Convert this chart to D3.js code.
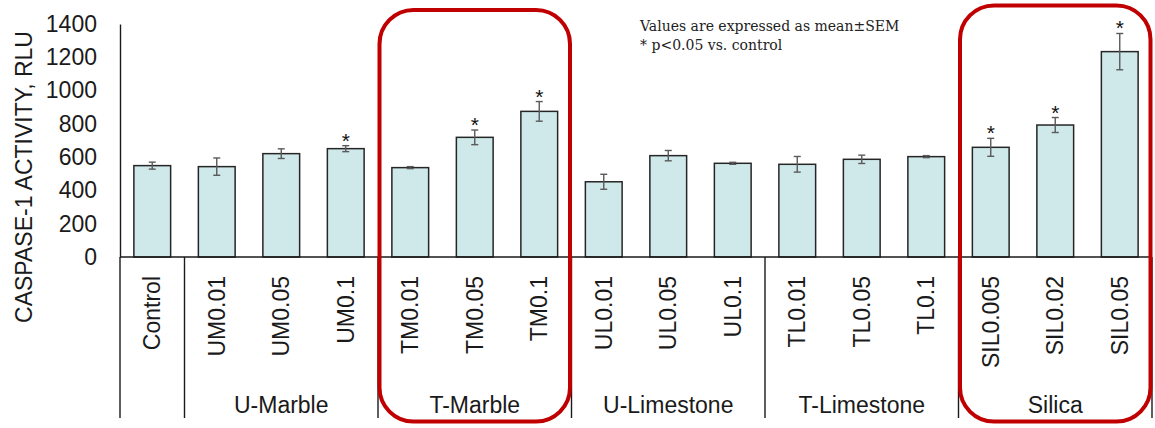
<!DOCTYPE html>
<html>
<head>
<meta charset="utf-8">
<script src="https://cdn.jsdelivr.net/npm/d3@7"></script>
<style>
  html, body { margin: 0; padding: 0; background: #ffffff; }
  svg { display: block; }
</style>
</head>
<body>
<svg id="chart" width="1155" height="428"></svg>
<script>
// Caspase-1 activity per treatment (mean ± SEM, RLU)
const categories = ["Control", "UM0.01", "UM0.05", "UM0.1", "TM0.01", "TM0.05", "TM0.1",
  "UL0.01", "UL0.05", "UL0.1", "TL0.01", "TL0.05", "TL0.1", "SIL0.005", "SIL0.02", "SIL0.05"];
const means = [549, 543, 621, 651, 537, 719, 875, 452, 609, 563, 557, 587, 603, 659, 793, 1234];
const sems  = [21, 52, 29, 18, 6, 44, 59, 45, 31, 6, 47, 25, 6, 54, 45, 109];
const significant = [false, false, false, true, false, true, true, false, false, false,
  false, false, false, true, true, true];

const groupNames = ["", "U-Marble", "T-Marble", "U-Limestone", "T-Limestone", "Silica"];
const groupSizes = [1, 3, 3, 3, 3, 3];
const highlightedGroups = ["T-Marble", "Silica"];

const yTicks = [0, 200, 400, 600, 800, 1000, 1200, 1400];
const yTitle = "CASPASE-1 ACTIVITY, RLU";
const noteLines = ["Values are expressed as mean\u00B1SEM", "* p<0.05 vs. control"];

const svg = d3.select("#chart");
const axisLeft = 120, axisRight = 1152, y0 = 257, yTop = 24, axisBottom = 418;

const x = d3.scaleBand().domain(categories).range([axisLeft, axisRight])
  .paddingInner(0.43).paddingOuter(0.215);
const y = d3.scaleLinear().domain([0, 1400]).range([y0, yTop]);
const step = x.step();

const sans = "'Liberation Sans', Arial, sans-serif";

// y axis: line + tick labels, no tick marks
const yAxis = svg.append("g").attr("transform", `translate(${axisLeft},0)`)
  .call(d3.axisLeft(y).tickValues(yTicks).tickSize(0).tickPadding(23).tickFormat(d3.format("d")));
yAxis.select(".domain").attr("stroke", "#1a1a1a").attr("stroke-width", 1.4);
yAxis.selectAll("text").attr("font-family", sans).attr("font-size", 23).attr("fill", "#1a1a1a");

svg.append("text")
  .attr("transform", `translate(32,${177}) rotate(-90)`)
  .attr("text-anchor", "middle")
  .attr("font-family", sans).attr("font-size", 23).attr("fill", "#1a1a1a")
  .text(yTitle);

// bars
const rows = categories.map((c, i) => ({ c, m: means[i], s: sems[i], sig: significant[i] }));
svg.append("g").selectAll("rect").data(rows).join("rect")
  .attr("x", d => x(d.c)).attr("width", x.bandwidth())
  .attr("y", d => y(d.m)).attr("height", d => y(0) - y(d.m))
  .attr("fill", "#cfe8ea").attr("stroke", "#262626").attr("stroke-width", 1.5);

// error bars
const eb = svg.append("g").attr("stroke", "#5a5a5a").attr("stroke-width", 1.4).attr("fill", "none");
rows.forEach(d => {
  const cx = x(d.c) + x.bandwidth() / 2;
  const hi = y(d.m + d.s), lo = y(d.m - d.s);
  eb.append("line").attr("x1", cx).attr("x2", cx).attr("y1", hi).attr("y2", lo);
  eb.append("line").attr("x1", cx - 3.5).attr("x2", cx + 3.5).attr("y1", hi).attr("y2", hi);
  eb.append("line").attr("x1", cx - 3.5).attr("x2", cx + 3.5).attr("y1", lo).attr("y2", lo);
});

// significance stars above the upper error cap
svg.append("g").selectAll("text").data(rows.filter(d => d.sig)).join("text")
  .attr("x", d => x(d.c) + x.bandwidth() / 2)
  .attr("y", d => y(d.m + d.s) + 2)
  .attr("text-anchor", "middle")
  .attr("font-family", sans).attr("font-size", 21).attr("fill", "#111")
  .text("*");

// category axis baseline
svg.append("line").attr("x1", axisLeft).attr("x2", axisRight).attr("y1", y0).attr("y2", y0)
  .attr("stroke", "#1a1a1a").attr("stroke-width", 1.4);

// category labels (rotated)
svg.append("g").selectAll("text").data(categories).join("text")
  .attr("transform", d => `translate(${x(d) + x.bandwidth() / 2},276) rotate(-90)`)
  .attr("text-anchor", "end").attr("dy", "0.35em")
  .attr("font-family", sans).attr("font-size", 23).attr("fill", "#1a1a1a")
  .text(d => d);

// group separators and group labels
const bounds = [0];
groupSizes.forEach(n => bounds.push(bounds[bounds.length - 1] + n));
const sep = svg.append("g").attr("stroke", "#1a1a1a").attr("stroke-width", 1.4);
bounds.forEach(b => {
  const xx = axisLeft + b * step;
  sep.append("line").attr("x1", xx).attr("x2", xx).attr("y1", y0).attr("y2", axisBottom);
});
const groups = groupNames.map((g, i) => ({
  name: g, x0: axisLeft + bounds[i] * step, x1: axisLeft + bounds[i + 1] * step
}));
svg.append("g").selectAll("text").data(groups.filter(g => g.name)).join("text")
  .attr("x", g => (g.x0 + g.x1) / 2).attr("y", 413)
  .attr("text-anchor", "middle")
  .attr("font-family", sans).attr("font-size", 23).attr("fill", "#1a1a1a")
  .text(g => g.name);

// note
const note = svg.append("text").attr("x", 640).attr("y", 31)
  .attr("font-family", "'DejaVu Serif', Georgia, serif").attr("font-size", 14).attr("fill", "#222");
noteLines.forEach((t, i) => note.append("tspan").attr("x", 640).attr("dy", i ? 18.5 : 0).text(t));

// highlight frames around selected groups
const frameTop = { "T-Marble": 10, "Silica": 5.5 };
svg.append("g").selectAll("rect").data(groups.filter(g => highlightedGroups.includes(g.name))).join("rect")
  .attr("x", g => g.x0 + 1.5).attr("width", g => g.x1 - g.x0 - 3)
  .attr("y", g => frameTop[g.name]).attr("height", g => 421.5 - frameTop[g.name])
  .attr("rx", 34).attr("ry", 34)
  .attr("fill", "none").attr("stroke", "#c00000").attr("stroke-width", 4);
</script>
</body>
</html>
